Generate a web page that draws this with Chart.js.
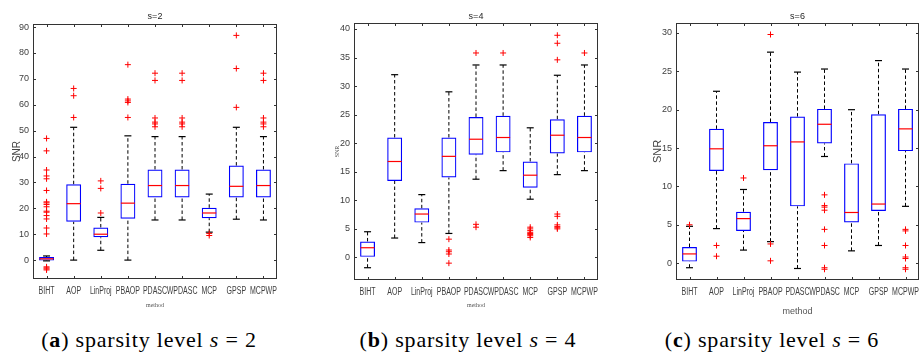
<!DOCTYPE html>
<html>
<head>
<meta charset="utf-8">
<script src="https://cdn.jsdelivr.net/npm/chart.js@4.4.0/dist/chart.umd.min.js"></script>
<style>
html, body { margin: 0; padding: 0; background: #fff; width: 920px; height: 354px; overflow: hidden; position: relative; }
.panel { position: absolute; top: 0; height: 320px; }
.cap { position: absolute; top: 327px; font-family: 'Liberation Serif', serif; font-size: 22px; letter-spacing: 0.8px; color: #000; white-space: nowrap; transform: translateX(-50%); }
.cap b { font-weight: normal; }
.cap b span { font-weight: bold; }
</style>
</head>
<body>
<div class="panel" style="left:0px"><canvas id="chartA" width="300" height="320"></canvas></div>
<div class="panel" style="left:310px"><canvas id="chartB" width="310" height="320"></canvas></div>
<div class="panel" style="left:620px"><canvas id="chartC" width="340" height="320"></canvas></div>
<div class="cap" style="left:149px"><b>(<span>a</span>)</b> sparsity level <i>s</i> = 2</div>
<div class="cap" style="left:468px"><b>(<span>b</span>)</b> sparsity level <i>s</i> = 4</div>
<div class="cap" style="left:772px"><b>(<span>c</span>)</b> sparsity level <i>s</i> = 6</div>
<script>
const categories = ['BIHT', 'AOP', 'LinProj', 'PBAOP', 'PDASC', 'WPDASC', 'MCP', 'GPSP', 'MCPWP'];

// s=2
const ticksA = [0, 10, 20, 30, 40, 50, 60, 70, 80, 90];
const lowA  = [-0.3, 0, 3.8, 0, 15.5, 15.5, 10.8, 15.8, 15.5];
const q1A   = [-0.2, 14.8, 8.8, 16, 24.2, 24.2, 16.2, 24.2, 24.2];
const medA  = [0.5, 21.8, 10, 22, 28.8, 28.8, 18.2, 28.5, 28.8];
const q3A   = [1.2, 29.3, 12.6, 29.5, 35, 35, 20.2, 36.5, 35];
const highA = [1.6, 51.3, 16.5, 48, 47.7, 47.7, 25.5, 51.3, 47.7];
const outA = [
  [-2.6, -3.0, -3.4, -3.8, 10.1, 12.4, 15.9, 17.2, 18.5, 18.9, 20.6, 21.5, 22.1, 22.5, 26.9, 31.4, 32.5, 34.8, 42.2, 47],
  [55.1, 63.5, 66.3],
  [18.2, 27.7, 30.6],
  [55.1, 60.9, 61.5, 62.2, 75.5],
  [51.5, 52.6, 53.3, 54.9, 69.4, 72.2],
  [51.5, 52.6, 53.3, 54.9, 69.4, 72.2],
  [9.5, 10.3],
  [59, 74, 86.8],
  [51.5, 52.6, 53.3, 54.9, 69.4, 72.2]
];

// s=4
const ticksB = [0, 5, 10, 15, 20, 25, 30, 35, 40];
const lowB  = [-1.8, 3.4, 2.6, 4.2, 13.7, 15.2, 10.2, 14.5, 15.2];
const q1B   = [0.1, 13.4, 6.1, 14.0, 18.0, 18.4, 12.2, 18.2, 18.4];
const medB  = [1.7, 16.8, 7.6, 17.7, 20.7, 21.0, 14.4, 21.4, 21.0];
const q3B   = [2.8, 21.0, 8.6, 21.0, 24.6, 24.8, 16.8, 24.2, 24.8];
const highB = [4.5, 32.0, 11.0, 29.0, 33.7, 33.7, 22.7, 31.9, 33.7];
const outB = [
  [],
  [],
  [],
  [3.2, 1.3, 1.0, 0.6, -1.0],
  [35.8, 5.8, 5.3],
  [35.8],
  [3.5, 3.8, 4.0, 4.2, 4.4, 4.7, 5.0, 5.3],
  [34.6, 37.5, 38.9, 7.2, 7.6, 5.0, 5.2, 5.4, 5.7],
  [35.8]
];

// s=6
const ticksC = [0, 5, 10, 15, 20, 25, 30];
const lowC  = [-0.6, 4.5, 1.7, 2.8, -0.7, 13.9, 1.6, 2.3, 7.4];
const q1C   = [0.2, 12.0, 4.2, 12.1, 7.4, 15.6, 5.3, 6.8, 14.6];
const medC  = [1.2, 14.9, 5.8, 15.3, 15.8, 18.1, 6.6, 7.7, 17.5];
const q3C   = [2.1, 17.5, 6.7, 18.4, 19.1, 20.1, 13.0, 19.4, 20.1];
const highC = [4.8, 22.4, 9.6, 27.5, 24.9, 25.3, 20.0, 26.4, 25.3];
const outC = [
  [5.0],
  [2.3, 0.9],
  [11.1],
  [29.8, 2.5, 0.3],
  [],
  [8.9, 7.5, 7.3, 6.9, 4.4, 2.3, -0.6, -0.8],
  [],
  [],
  [4.4, 4.2, 2.3, 0.8, 0.6, -0.6, -0.8]
];

const sans = "'Liberation Sans', Arial, sans-serif";
const serif = "'Liberation Serif', serif";

// matlab style box with inward ticks on all four sides
const framePlugin = {
  id: 'frame',
  afterDatasetsDraw(chart) {
    const { ctx, chartArea: a, scales } = chart;
    ctx.save();
    ctx.strokeStyle = '#333';
    ctx.lineWidth = 1;
    ctx.strokeRect(Math.round(a.left) + 0.5, Math.round(a.top) + 0.5, Math.round(a.width) - 1, Math.round(a.height) - 1);
    ctx.beginPath();
    scales.y.ticks.forEach(t => {
      const y = Math.round(scales.y.getPixelForValue(t.value)) + 0.5;
      ctx.moveTo(a.left, y); ctx.lineTo(a.left + 3, y);
      ctx.moveTo(a.right, y); ctx.lineTo(a.right - 3, y);
    });
    scales.x.ticks.forEach(t => {
      const x = Math.round(scales.x.getPixelForValue(t.value)) + 0.5;
      ctx.moveTo(x, a.bottom); ctx.lineTo(x, a.bottom - 3);
      ctx.moveTo(x, a.top); ctx.lineTo(x, a.top + 3);
    });
    ctx.stroke();

    // category labels, squeezed like the narrow matlab font
    ctx.fillStyle = '#404040';
    ctx.font = '10px ' + sans;
    ctx.textAlign = 'center';
    ctx.textBaseline = 'top';
    scales.x.ticks.forEach(t => {
      ctx.save();
      ctx.translate(scales.x.getPixelForValue(t.value), a.bottom + 7);
      ctx.scale(0.7, 1);
      ctx.fillText(categories[t.value - 1], 0, 0);
      ctx.restore();
    });
    ctx.restore();
  }
};

function boxChart(id, low, q1, med, q3, high, out, yTicks, o) {
  const pts = arr => arr.map((v, i) => ({ x: i + 1, y: v }));
  const whisk = [];
  categories.forEach((c, i) => {
    whisk.push({ x: i + 1, y: low[i] }, { x: i + 1, y: q1[i] }, { x: i + 1, y: null },
               { x: i + 1, y: q3[i] }, { x: i + 1, y: high[i] }, { x: i + 1, y: null });
  });
  const outPts = [];
  out.forEach((list, i) => list.forEach(v => outPts.push({ x: i + 1, y: v })));

  return new Chart(document.getElementById(id), {
    type: 'scatter',
    data: {
      datasets: [
        { type: 'line', data: pts(med), showLine: false, pointStyle: 'line', pointRadius: 7, pointBorderColor: '#ff0000', pointBorderWidth: 1.2 },
        { type: 'scatter', data: outPts, pointStyle: 'cross', pointRadius: 3, pointBorderColor: '#ff0000', pointBackgroundColor: '#ff0000', pointBorderWidth: 1 },
        { type: 'line', data: pts(low).concat(pts(high)), showLine: false, pointStyle: 'line', pointRadius: 3.5, pointBorderColor: '#000', pointBorderWidth: 1.2 },
        { type: 'bar', data: categories.map((c, i) => ({ x: i + 1, y: [q1[i], q3[i]] })), backgroundColor: 'rgba(0,0,0,0)',
          borderColor: '#0000ff', borderWidth: 1.2, borderSkipped: false, barPercentage: 0.55, categoryPercentage: 1 },
        { type: 'line', data: whisk, borderColor: '#000', borderWidth: 1, borderDash: [3.5, 2.5], pointRadius: 0, spanGaps: false }
      ]
    },
    options: {
      responsive: false,
      animation: false,
      events: [],
      layout: { padding: 0 },
      plugins: {
        legend: { display: false },
        tooltip: { enabled: false },
        title: { display: true, text: o.title, fullSize: false, color: '#262626',
                 font: { family: sans, size: 9, weight: 'normal' }, padding: { top: o.titleTop, bottom: o.top - o.titleTop - 10.8 } }
      },
      scales: {
        x: {
          type: 'linear', min: 0.5, max: 9.5, offset: false,
          grid: { display: false, drawTicks: false }, border: { display: false },
          afterBuildTicks: s => { s.ticks = categories.map((c, i) => ({ value: i + 1 })); },
          afterFit: s => { s.height = 320 - o.bottom; },
          ticks: { display: false },
          title: { display: true, text: 'method', color: '#555', font: o.xFont, padding: { top: 0, bottom: o.xTitleBottom } }
        },
        y: {
          type: 'linear', min: o.min, max: o.max,
          grid: { display: false, drawTicks: false }, border: { display: false },
          afterBuildTicks: s => { s.ticks = yTicks.map(v => ({ value: v })); },
          afterFit: s => { s.width = o.left; },
          ticks: { padding: 4, color: '#404040', font: { family: sans, size: 9 } },
          title: { display: true, text: 'SNR', color: '#444', font: o.yFont, padding: { top: o.yTitlePad, bottom: 0 } }
        },
        yr: {
          type: 'linear', position: 'right', display: true,
          grid: { display: false, drawTicks: false }, border: { display: false },
          ticks: { display: false },
          afterFit: s => { s.width = o.right; }
        }
      }
    },
    plugins: [framePlugin]
  });
}

boxChart('chartA', lowA, q1A, medA, q3A, highA, outA, ticksA, {
  title: 's=2', min: -7.3, max: 91.2, top: 24, titleTop: 11.6, bottom: 279, left: 33, right: 23,
  xFont: { family: serif, size: 6 }, xTitleBottom: 11,
  yFont: { family: sans, size: 10 }, yTitlePad: 11
});
boxChart('chartB', lowB, q1B, medB, q3B, highB, outB, ticksB, {
  title: 's=4', min: -3.95, max: 41.05, top: 23, titleTop: 11.3, bottom: 280, left: 44, right: 22,
  xFont: { family: serif, size: 6 }, xTitleBottom: 11,
  yFont: { family: serif, size: 6 }, yTitlePad: 24
});
boxChart('chartC', lowC, q1C, medC, q3C, highC, outC, ticksC, {
  title: 's=6', min: -2.2, max: 31.3, top: 23, titleTop: 11.3, bottom: 280, left: 56, right: 41,
  xFont: { family: sans, size: 9 }, xTitleBottom: 3,
  yFont: { family: sans, size: 11 }, yTitlePad: 31
});
</script>
</body>
</html>
